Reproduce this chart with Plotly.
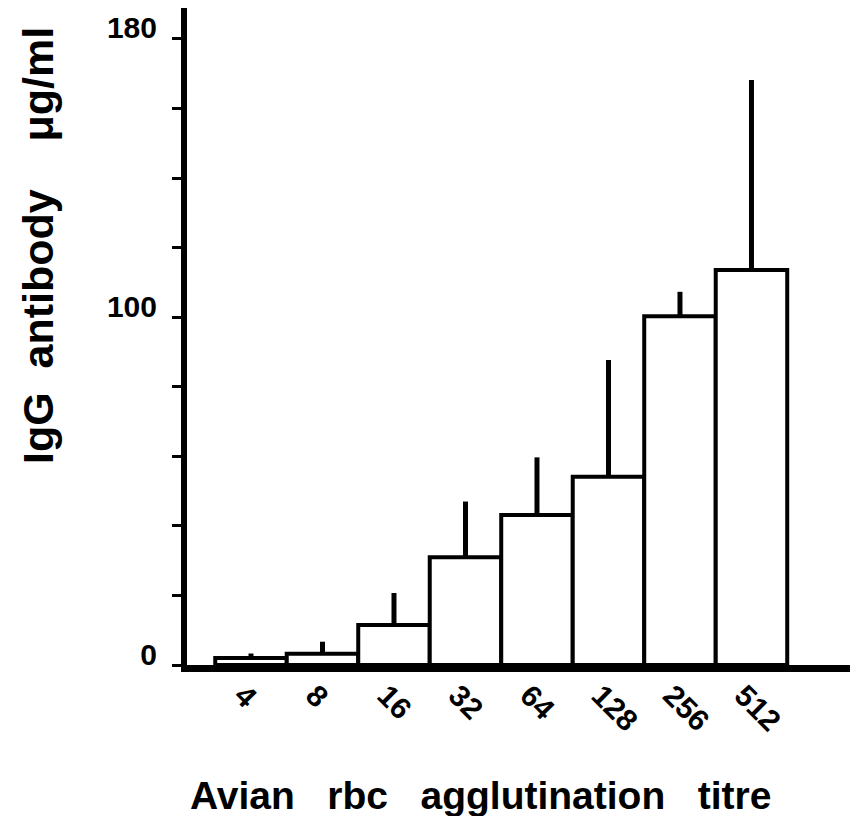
import plotly.graph_objects as go

titres = ["4", "8", "16", "32", "64", "128", "256", "512"]
igg_mean = [2.0, 3.2, 11.5, 31.0, 43.1, 54.1, 100.3, 113.6]
igg_err_up = [1.3, 3.5, 9.2, 16.0, 16.6, 33.6, 7.0, 54.6]
y_tick_vals = [0, 20, 40, 60, 80, 100, 120, 140, 160, 180]
y_tick_text = ["0", "", "", "", "", "100", "", "", "", "180"]

FONT = "Liberation Sans, Arial, sans-serif"
xpos = list(range(len(titres)))
NB = "\u00a0"

fig = go.Figure()
fig.add_trace(go.Bar(
    x=xpos,
    y=igg_mean,
    width=1.0,
    marker=dict(color="white", line=dict(color="black", width=4)),
    error_y=dict(type="data", symmetric=False, array=igg_err_up,
                 arrayminus=[0] * len(igg_err_up),
                 thickness=5, width=0, color="black"),
    showlegend=False,
))

fig.update_layout(
    width=850, height=816,
    margin=dict(l=187, r=0, t=8, b=151),
    paper_bgcolor="white", plot_bgcolor="white",
    font=dict(family=FONT, color="black"),
    xaxis=dict(
        range=[-0.895, 8.378],
        tickvals=xpos, ticktext=titres,
        tickangle=45,
        tickfont=dict(family=FONT, size=30, weight="bold"),
        ticks="", showgrid=False, zeroline=False,
        showline=True, linecolor="black", linewidth=7,
        ticklabelshift=-8, ticklabelstandoff=-6,
        automargin=False,
    ),
    yaxis=dict(
        range=[0, 188.9],
        tickvals=y_tick_vals, ticktext=y_tick_text,
        tickfont=dict(family=FONT, size=30, weight="bold"),
        ticks="outside", ticklen=9, tickwidth=3, tickcolor="black",
        showgrid=False, zeroline=False,
        showline=True, linecolor="black", linewidth=6,
        ticklabelstandoff=9, ticklabelshift=-11,
        automargin=False,
    ),
    annotations=[
        dict(text="IgG" + NB * 2 + "antibody" + NB * 4 + "μg/ml",
             xref="paper", yref="paper",
             x=-(187 - 38) / 663, y=(657 - 246 + 8) / 657,
             xanchor="center", yanchor="middle", textangle=-90,
             showarrow=False,
             font=dict(family=FONT, size=43, weight="bold")),
        dict(text="Avian" + NB * 3 + "rbc" + NB * 3 + "agglutination" + NB * 3 + "titre",
             xref="paper", yref="paper",
             x=(480 - 187) / 663, y=-(795 - 665) / 657,
             xanchor="center", yanchor="middle",
             showarrow=False,
             font=dict(family=FONT, size=39, weight="bold")),
    ],
)

fig.write_html("out.html",
               config={"displayModeBar": False},
               post_script="document.body.style.margin='0';document.body.style.padding='0';")
